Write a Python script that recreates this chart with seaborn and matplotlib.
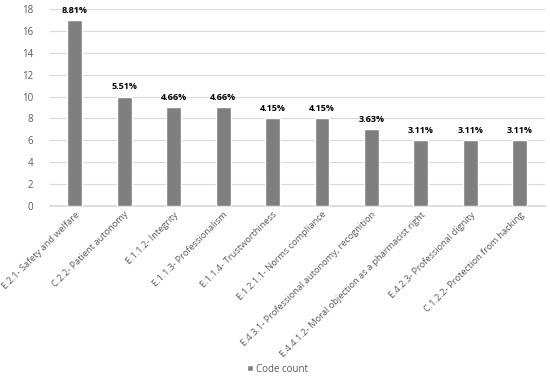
import matplotlib
matplotlib.use("Agg")
import matplotlib.pyplot as plt
import pandas as pd
import seaborn as sns

categories = [
    "E.2.1- Safety and welfare",
    "C.2.2- Patient autonomy",
    "E.1.1.2- Integrity",
    "E.1.1.3- Professionalism",
    "E.1.1.4- Trustworthiness",
    "E.1.2.1.1- Norms compliance",
    "E.4.3.1- Professional autonomy, recognition",
    "E.4.4.1.2- Moral objection as a pharmacist right",
    "E.4.2.3- Professional dignity",
    "C.1.2.2- Protection from hacking",
]
counts = [17, 10, 9, 9, 8, 8, 7, 6, 6, 6]
pct_labels = ["8.81%", "5.51%", "4.66%", "4.66%", "4.15%", "4.15%",
              "3.63%", "3.11%", "3.11%", "3.11%"]

df = pd.DataFrame({"code": categories, "count": counts, "series": "Code count"})

sns.set_theme(style="white")
plt.rcParams["font.family"] = ["Open Sans", "DejaVu Sans"]

fig = plt.figure(figsize=(5.5, 3.77), dpi=100)
ax = fig.add_axes([0.091, 0.454, 0.899, 0.522])

sns.barplot(data=df, x="code", y="count", hue="series", palette=["#7f7f7f"],
            width=0.3, ax=ax, zorder=3)

ax.set_ylim(0, 18)
ax.set_yticks(range(0, 19, 2))
ax.yaxis.grid(True, color="#d9d9d9", lw=0.8, zorder=0)
ax.set_axisbelow(True)
for s in ["top", "right", "left"]:
    ax.spines[s].set_visible(False)
ax.spines["bottom"].set_color("#d9d9d9")
ax.set_xlabel("")
ax.set_ylabel("")
ax.tick_params(axis="y", labelsize=7, colors="#595959", length=0, pad=12)
ax.tick_params(axis="x", labelsize=6.7, colors="#595959", length=0, pad=3)
ax.set_xticks(range(len(categories)))
ax.set_xticklabels(categories, rotation=45, ha="right", rotation_mode="anchor")
ax.set_xlim(-0.5, len(categories) - 0.5)

for i, (c, p) in enumerate(zip(counts, pct_labels)):
    ax.text(i, c + 0.5, p, ha="center", va="bottom", fontsize=6.5,
            fontweight="bold", color="#000000")

ax.legend(loc="center", bbox_to_anchor=(0.46, -0.83), frameon=False,
          fontsize=7, labelcolor="#595959", handlelength=0.6, handleheight=0.6,
          handletextpad=0.3)

fig.savefig("out.png", dpi=100)
